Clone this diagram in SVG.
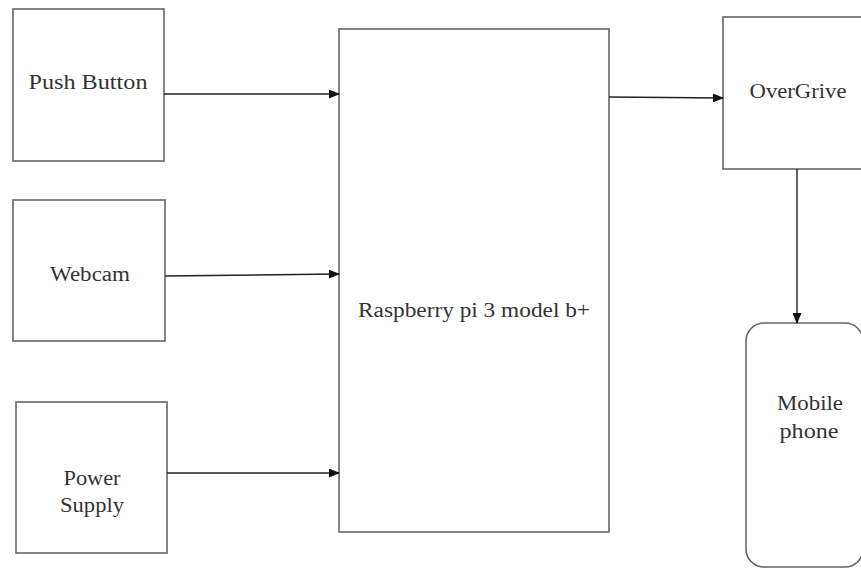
<svg xmlns="http://www.w3.org/2000/svg" width="861" height="569" viewBox="0 0 861 569">
<style>
.box{fill:#fff;stroke:#666;stroke-width:1.6}
.lbl{font-family:"Liberation Serif","Times New Roman",serif;font-size:20px;fill:#333;text-anchor:middle}
.conn{stroke:#222;stroke-width:1.4;fill:none}
</style>
<defs>
<marker id="ah" markerWidth="11" markerHeight="9" refX="10" refY="4.5" orient="auto" markerUnits="userSpaceOnUse">
<path d="M0,0 L11,4.5 L0,9 Z" fill="#111"/>
</marker>
</defs>
<rect width="861" height="569" fill="#fff"/>
<g id="push-button">
<rect class="box" x="13" y="9" width="151" height="152"/>
<text class="lbl" x="88" y="89" textLength="119" lengthAdjust="spacingAndGlyphs">Push Button</text>
</g>
<g id="webcam">
<rect class="box" x="13" y="200" width="152" height="141"/>
<text class="lbl" x="90" y="281" textLength="80" lengthAdjust="spacingAndGlyphs">Webcam</text>
</g>
<g id="power-supply">
<rect class="box" x="16" y="402" width="151" height="151"/>
<text class="lbl" x="92" y="485" textLength="57" lengthAdjust="spacingAndGlyphs">Power</text>
<text class="lbl" x="92" y="512" textLength="64" lengthAdjust="spacingAndGlyphs">Supply</text>
</g>
<g id="raspberry">
<rect class="box" x="339" y="29" width="270" height="503"/>
<text class="lbl" x="474" y="317" textLength="232" lengthAdjust="spacingAndGlyphs">Raspberry pi 3 model b+</text>
</g>
<g id="overgrive">
<rect class="box" x="723" y="17" width="145" height="152"/>
<text class="lbl" x="798" y="98" textLength="97" lengthAdjust="spacingAndGlyphs">OverGrive</text>
</g>
<g id="mobile-phone">
<rect class="box" x="746" y="323" width="117" height="244" rx="18" ry="18"/>
<text class="lbl" x="810" y="410" textLength="66" lengthAdjust="spacingAndGlyphs">Mobile</text>
<text class="lbl" x="809" y="438" textLength="59" lengthAdjust="spacingAndGlyphs">phone</text>
</g>
<g id="connectors">
<line class="conn" x1="164" y1="94" x2="339" y2="94" marker-end="url(#ah)"/>
<line class="conn" x1="165" y1="276" x2="339" y2="274" marker-end="url(#ah)"/>
<line class="conn" x1="167" y1="473" x2="339" y2="473" marker-end="url(#ah)"/>
<line class="conn" x1="609" y1="97" x2="723" y2="98" marker-end="url(#ah)"/>
<line class="conn" x1="797" y1="169" x2="797" y2="323" marker-end="url(#ah)"/>
</g>
</svg>
